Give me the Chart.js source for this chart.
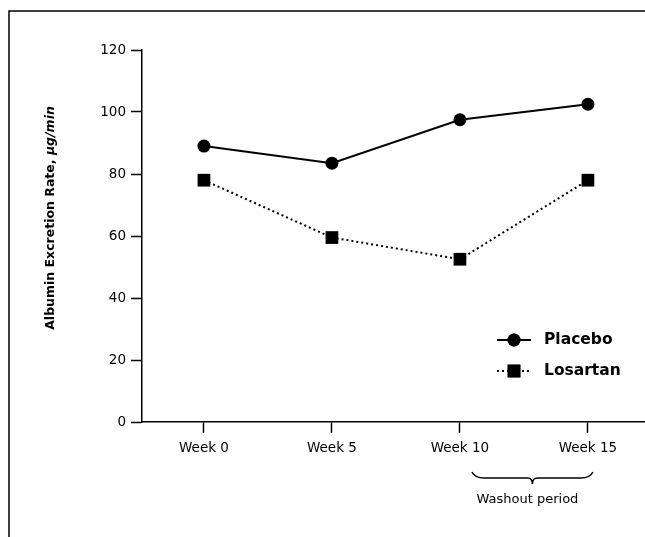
<!DOCTYPE html>
<html>
<head>
<meta charset="utf-8">
<script src="https://cdn.jsdelivr.net/npm/chart.js@4.4.0/dist/chart.umd.min.js"></script>
<style>
  html, body { margin: 0; padding: 0; background: #fff; overflow: hidden; }
  #wrap { width: 645px; height: 537px; }
</style>
</head>
<body>
<div id="wrap"><canvas id="albuminChart"></canvas></div>
<script>
// values
const weeks = [0, 5, 10, 15];
const weekLabels = ['Week 0', 'Week 5', 'Week 10', 'Week 15'];
const placebo = [89, 83.5, 97.5, 102.5];
const losartan = [78, 59.5, 52.5, 78];
const washout = [10, 15];
const yTitle = 'Albumin Excretion Rate, ';
const yUnit = 'μg/min';
const washoutLabel = 'Washout period';

const FONT = '"DejaVu Sans", sans-serif';

const extras = {
    id: 'extras',
    afterDraw(chart) {
        const ctx = chart.ctx;
        const xs = chart.scales.x;
        ctx.save();
        ctx.strokeStyle = '#000';
        ctx.fillStyle = '#000';
        ctx.lineWidth = 1.5;

        // frame top + left
        ctx.beginPath();
        ctx.moveTo(645, 11);
        ctx.lineTo(9, 11);
        ctx.lineTo(9, 537);
        ctx.stroke();

        // y title, unit in italics
        ctx.save();
        ctx.translate(51, 218);
        ctx.rotate(-Math.PI / 2);
        ctx.textBaseline = 'middle';
        ctx.font = 'bold 12.5px ' + FONT;
        const w1 = ctx.measureText(yTitle).width;
        ctx.font = 'italic bold 12.5px ' + FONT;
        const w2 = ctx.measureText(yUnit).width;
        const start = -(w1 + w2) / 2;
        ctx.font = 'bold 12.5px ' + FONT;
        ctx.fillText(yTitle, start, 0);
        ctx.font = 'italic bold 12.5px ' + FONT;
        ctx.fillText(yUnit, start + w1, 0);
        ctx.restore();

        // legend
        const rows = [340, 371];
        chart.data.datasets.forEach((ds, i) => {
            const y = rows[i];
            ctx.beginPath();
            ctx.lineWidth = ds.borderWidth;
            ctx.setLineDash(ds.borderDash || []);
            ctx.moveTo(497, y);
            ctx.lineTo(531, y);
            ctx.stroke();
            ctx.setLineDash([]);
            Chart.helpers.drawPoint(ctx, {
                pointStyle: ds.pointStyle, radius: ds.pointRadius, borderWidth: 0
            }, 514, y);
            ctx.fill();
            ctx.font = 'bold 15.5px ' + FONT;
            ctx.textBaseline = 'middle';
            ctx.textAlign = 'left';
            ctx.fillText(ds.label, 544, y);
        });

        // washout brace
        const x1 = xs.getPixelForValue(washout[0]) + 12;
        const x2 = xs.getPixelForValue(washout[1]) + 5;
        const mid = (x1 + x2) / 2;
        ctx.lineWidth = 1.5;
        ctx.beginPath();
        ctx.moveTo(x1, 472);
        ctx.quadraticCurveTo(x1 + 3, 478, x1 + 12, 478);
        ctx.lineTo(mid - 5, 478);
        ctx.quadraticCurveTo(mid, 478, mid, 484);
        ctx.quadraticCurveTo(mid, 478, mid + 5, 478);
        ctx.lineTo(x2 - 12, 478);
        ctx.quadraticCurveTo(x2 - 3, 478, x2, 472);
        ctx.stroke();
        ctx.font = '13px ' + FONT;
        ctx.textAlign = 'center';
        ctx.textBaseline = 'middle';
        ctx.fillText(washoutLabel, mid - 5, 500);
        ctx.restore();
    }
};

new Chart(document.getElementById('albuminChart'), {
    type: 'line',
    data: {
        datasets: [{
            label: 'Placebo',
            data: weeks.map((w, i) => ({ x: w, y: placebo[i] })),
            borderColor: '#000',
            backgroundColor: '#000',
            borderWidth: 2,
            pointStyle: 'circle',
            pointRadius: 6.5,
            pointBackgroundColor: '#000',
            pointBorderWidth: 0
        }, {
            label: 'Losartan',
            data: weeks.map((w, i) => ({ x: w, y: losartan[i] })),
            borderColor: '#000',
            backgroundColor: '#000',
            borderWidth: 2,
            borderDash: [2, 3],
            pointStyle: 'rect',
            pointRadius: 9,
            pointBackgroundColor: '#000',
            pointBorderWidth: 0
        }]
    },
    options: {
        responsive: true,
        maintainAspectRatio: false,
        animation: false,
        layout: { autoPadding: false, padding: { top: 50, right: 0, left: 0, bottom: 0 } },
        plugins: {
            legend: { display: false },
            tooltip: { enabled: false }
        },
        scales: {
            x: {
                type: 'linear',
                min: -2.42,
                max: 17.23,
                afterBuildTicks: scale => { scale.ticks = weeks.map(v => ({ value: v })); },
                afterFit: scale => { scale.height = 115; },
                ticks: {
                    autoSkip: false,
                    maxRotation: 0,
                    color: '#000',
                    padding: 7,
                    font: { family: FONT, size: 13.5 },
                    callback: (v, i) => weekLabels[i]
                },
                grid: {
                    drawOnChartArea: false,
                    tickLength: 11,
                    tickColor: '#000',
                    tickWidth: 1.5
                },
                border: { display: true, color: '#000', width: 1.5 }
            },
            y: {
                min: 0,
                max: 120,
                afterFit: scale => { scale.width = 142; },
                ticks: {
                    stepSize: 20,
                    color: '#000',
                    padding: 5,
                    font: { family: FONT, size: 13.5 }
                },
                grid: {
                    drawOnChartArea: false,
                    tickLength: 11,
                    tickColor: '#000',
                    tickWidth: 1.5
                },
                border: { display: true, color: '#000', width: 1.5 }
            }
        }
    },
    plugins: [extras]
});
</script>
</body>
</html>
